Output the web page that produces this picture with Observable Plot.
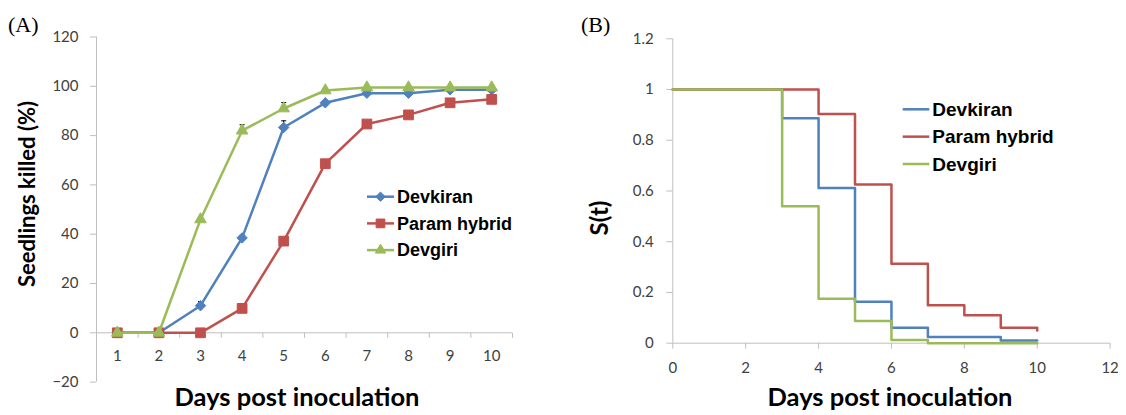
<!DOCTYPE html>
<html><head><meta charset="utf-8">
<script src="https://cdn.jsdelivr.net/npm/d3@7"></script>
<script src="https://cdn.jsdelivr.net/npm/@observablehq/plot@0.6"></script>
<style>
body{margin:0;background:#fff;}
#wrap{position:relative;width:1126px;height:415px;overflow:hidden;background:#fff;}
#a{position:absolute;left:0;top:0;}
#b{position:absolute;left:560px;top:0;}
svg{display:block;}
</style></head><body><div id="wrap"><div id="a"></div><div id="b"></div></div>
<script>
// ---------- data: panel A ----------
const seriesNames = ["Devkiran", "Param hybrid", "Devgiri"];
const days = [1, 2, 3, 4, 5, 6, 7, 8, 9, 10];
const killedDevkiran = [0, 0, 11, 38.5, 83.3, 93.3, 97.2, 97.2, 98.6, 98.6];
const killedParam    = [0, 0, 0, 9.9, 37.2, 68.6, 84.7, 88.4, 93.3, 94.7];
const killedDevgiri  = [0, 0, 46, 82, 91, 98.3, 99.5, 99.5, 99.5, 99.5];
const errDevkiran = [0, 0, 1.7, 1.0, 2.7, 0.8, 0.5, 0.5, 0.5, 0.5];
const errParam    = [0, 0, 0, 1.0, 1.5, 1.5, 1.0, 1.0, 0.8, 0.8];
const errDevgiri  = [0, 0, 1.0, 2.4, 2.4, 0.8, 0.3, 0.3, 0.3, 0.3];
const yTicksA = [-20, 0, 20, 40, 60, 80, 100, 120];

// ---------- data: panel B ----------
const survTime     = [0, 3, 4, 5, 6, 7, 8, 9, 10];
const survDevkiran = [1, 0.887, 0.612, 0.163, 0.061, 0.024, 0.024, 0.011, 0.011];
const survParam    = [1, 1, 0.904, 0.626, 0.313, 0.150, 0.110, 0.061, 0.050];
const survDevgiri  = [1, 0.540, 0.175, 0.088, 0.013, 0, 0, 0, 0];
const xTicksB = [0, 2, 4, 6, 8, 10, 12];
const yTicksB = [0, 0.2, 0.4, 0.6, 0.8, 1, 1.2];

// ---------- styles ----------
const colors = ["#4F81BD", "#C0504D", "#9BBB59"];
const symbolsA = ["diamond2", "square", "triangle"];
const symbolR = [4.7, 5.5, 4.3];
const axisGray = "#BFBFBF";
const tickText = "#404040";

const killed = [killedDevkiran, killedParam, killedDevgiri];
const errs = [errDevkiran, errParam, errDevgiri];
const surv = [survDevkiran, survParam, survDevgiri];

const tableA = seriesNames.flatMap((s, k) => days.map((d, i) => ({series: s, day: d, v: killed[k][i], e: errs[k][i]})));
const tableB = seriesNames.flatMap((s, k) => survTime.map((t, i) => ({series: s, t, s: surv[k][i]})));

const vTick = {draw(ctx) { ctx.moveTo(0, 0); ctx.lineTo(0, 5); }};
const capSym = {draw(ctx) { ctx.moveTo(-2.5, 0); ctx.lineTo(2.5, 0); }};
const xBoundsA = days.map(d => d - 0.5).concat([days[days.length - 1] + 0.5]);

// ---------- Panel A ----------
const marksA = [
  Plot.ruleX([xBoundsA[0]], {stroke: axisGray}),
  Plot.ruleY([0], {stroke: axisGray}),
  Plot.axisY(yTicksA, {tickSize: 6, tickPadding: 12, stroke: axisGray, fill: tickText, fontSize: 15, label: null}),
  Plot.dot(xBoundsA, {x: d => d, y: () => 0, symbol: vTick, fill: "none", stroke: axisGray, strokeWidth: 1}),
  Plot.text(days, {x: d => d, y: () => 0, dy: 23, text: d => String(d), fill: tickText, fontSize: 15}),
  Plot.ruleX(tableA.filter(d => d.e > 0), {x: "day", y1: "v", y2: d => d.v + d.e, stroke: "#000", strokeWidth: 1}),
  Plot.dot(tableA.filter(d => d.e > 0), {x: "day", y: d => d.v + d.e, symbol: capSym, fill: "none", stroke: "#000", strokeWidth: 1})
];
seriesNames.forEach((s, k) => {
  const rows = tableA.filter(d => d.series === s);
  marksA.push(Plot.line(rows, {x: "day", y: "v", stroke: colors[k], strokeWidth: 2.5}));
  marksA.push(Plot.dot(rows, {x: "day", y: "v", symbol: symbolsA[k], r: symbolR[k], fill: colors[k], stroke: colors[k], strokeWidth: 1}));
});

const plotA = Plot.plot({
  width: 560, height: 415,
  marginLeft: 96, marginRight: 48, marginTop: 36.5, marginBottom: 33.4,
  style: {fontFamily: "Lato", fontSize: "15px", background: "white"},
  x: {type: "linear", domain: [0.5, 10.5], axis: null},
  y: {domain: [-20, 120], label: null},
  marks: marksA
});
document.getElementById("a").appendChild(plotA);

// ---------- Panel B ----------
const marksB = [
  Plot.ruleX([0], {stroke: axisGray}),
  Plot.ruleY([0], {stroke: axisGray}),
  Plot.axisY(yTicksB, {tickSize: 6, tickPadding: 13, stroke: axisGray, fill: tickText, fontSize: 15, label: null, tickFormat: d => String(+d.toFixed(1))}),
  Plot.axisX(xTicksB, {tickSize: 6, tickPadding: 13, stroke: axisGray, fill: tickText, fontSize: 15, label: null})
];
seriesNames.forEach((s, k) => {
  marksB.push(Plot.line(tableB.filter(d => d.series === s), {x: "t", y: "s", curve: "step-after", stroke: colors[k], strokeWidth: 2.5}));
});
const plotB = Plot.plot({
  width: 566, height: 415,
  marginLeft: 112.3, marginRight: 16.4, marginTop: 38.3, marginBottom: 72.3,
  style: {fontFamily: "Lato", fontSize: "15px", background: "white"},
  x: {domain: [0, 12], label: null},
  y: {domain: [0, 1.2], label: null},
  marks: marksB
});
document.getElementById("b").appendChild(plotB);

// ---------- titles, axis labels, legends ----------
function decorate(svgNode, opts) {
  const svg = d3.select(svgNode);
  svg.append("text").attr("x", opts.tx).attr("y", 32).attr("text-anchor", "start")
    .attr("font-family", "Liberation Serif")
    .attr("font-size", 22).attr("fill", "#000").text(opts.title);
  svg.append("text").attr("transform", `translate(${opts.ylx},${opts.yly}) rotate(-90)`)
    .attr("text-anchor", "middle").attr("font-family", "Lato").attr("font-weight", "bold")
    .attr("font-size", opts.ylSize).attr("fill", "#000").text(opts.ylabel);
  svg.append("text").attr("x", opts.xlx).attr("y", 406).attr("text-anchor", "middle")
    .attr("font-family", "Lato").attr("font-weight", "bold").attr("font-size", 25.5)
    .attr("fill", "#000").text("Days post inoculation");
  const lg = svg.append("g");
  seriesNames.forEach((s, k) => {
    const y = opts.ly + k * opts.lstep;
    lg.append("line").attr("x1", opts.lx1).attr("x2", opts.lx2).attr("y1", y).attr("y2", y)
      .attr("stroke", colors[k]).attr("stroke-width", 2.5);
    if (opts.markers) {
      const sym = [d3.symbolDiamond2, d3.symbolSquare, d3.symbolTriangle][k];
      lg.append("path").attr("d", d3.symbol(sym, Math.PI * symbolR[k] * symbolR[k] * 0.8)())
        .attr("transform", `translate(${(opts.lx1 + opts.lx2) / 2},${y})`)
        .attr("fill", colors[k]).attr("stroke", colors[k]);
    }
    lg.append("text").attr("x", opts.lx2 + 3).attr("y", y).attr("dy", "0.35em")
      .attr("text-anchor", "start")
      .attr("font-family", "Liberation Sans").attr("font-weight", "bold")
      .attr("font-size", opts.lSize).attr("fill", "#000").text(s);
  });
}
decorate(plotA, {title: "(A)", tx: 8, ylabel: "Seedlings killed (%)", ylx: 35, yly: 194, ylSize: 22,
  xlx: 297, lx1: 367, lx2: 394, ly: 196.7, lstep: 26.7, lSize: 18, markers: true});
decorate(plotB, {title: "(B)", tx: 21, ylabel: "S(t)", ylx: 48, yly: 218, ylSize: 24,
  xlx: 330, lx1: 342.7, lx2: 369.3, ly: 109.3, lstep: 27.35, lSize: 19, markers: false});
</script>
</body></html>
